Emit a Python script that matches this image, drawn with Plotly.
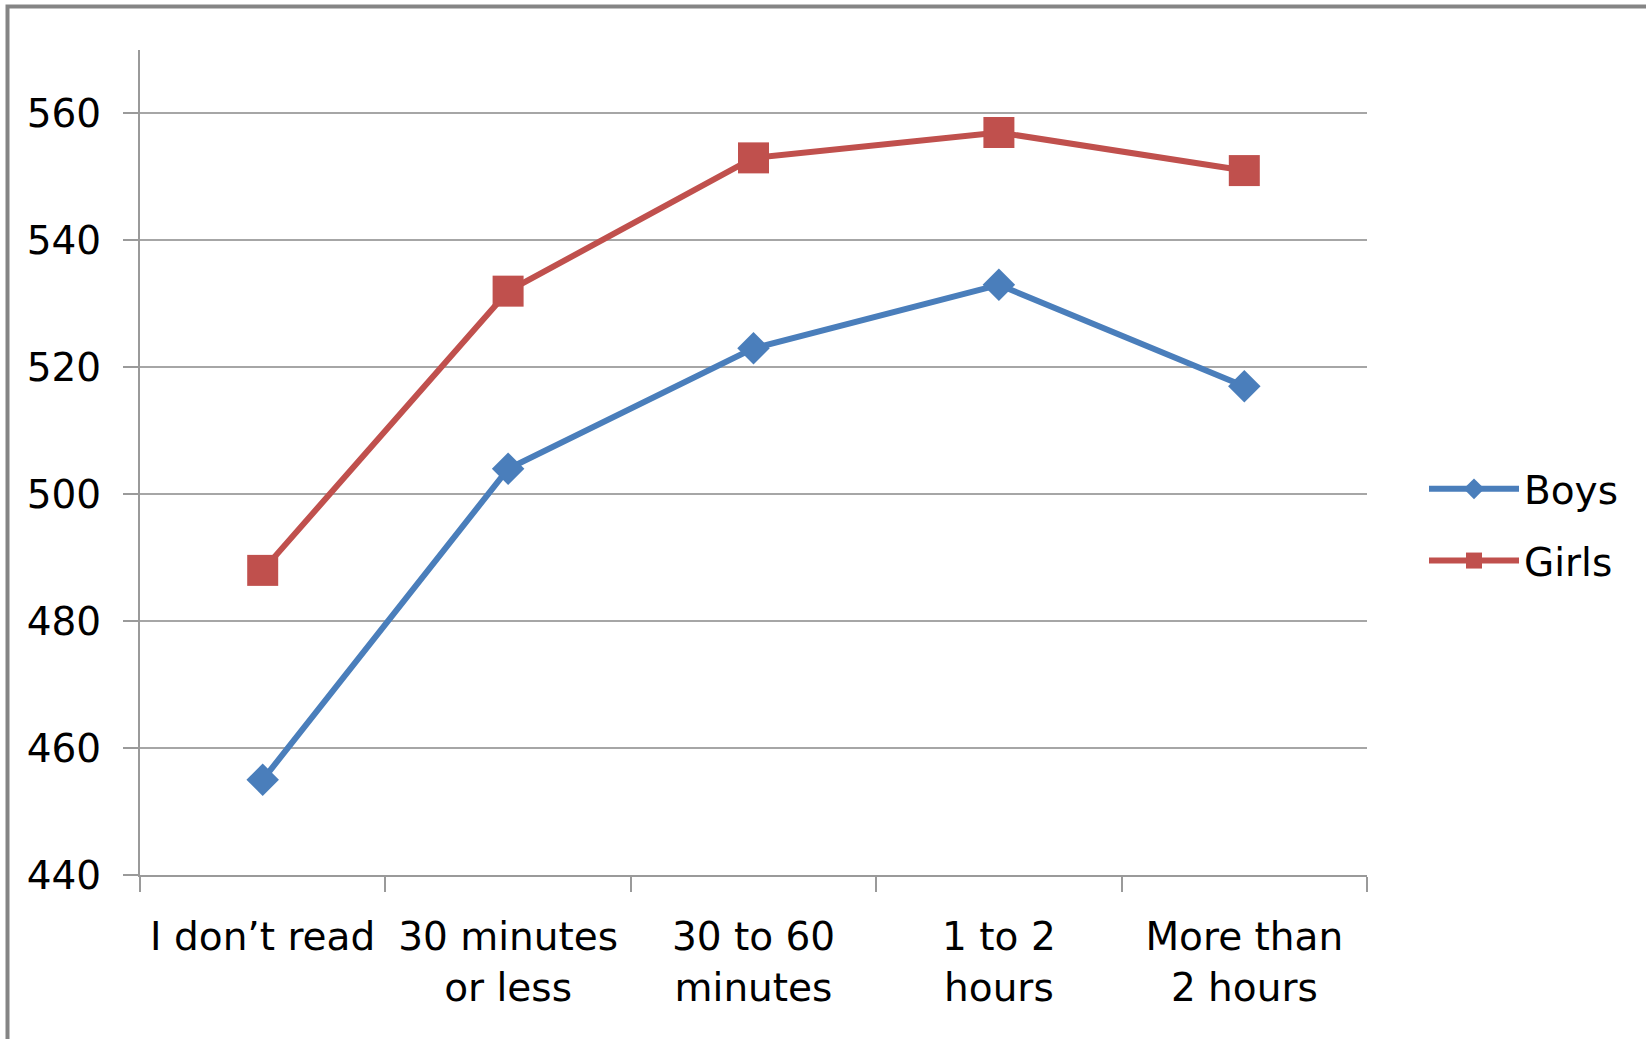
import plotly.graph_objects as go

categories = ["I don’t read", "30 minutes<br>or less", "30 to 60<br>minutes", "1 to 2<br>hours", "More than<br>2 hours"]
boys = [455, 504, 523, 533, 517]
girls = [488, 532, 553, 557, 551]
y_ticks = [440, 460, 480, 500, 520, 540, 560]

W, H = 1646, 1039
# plot area in screen pixels
SX0, SX1, SY0, SY1 = 140, 1367, 50, 875
L, T = SX0, SY0
R, B = W - SX1, H - SY1
pw, ph = SX1 - SX0, SY1 - SY0

FONT = "DejaVu Sans"
FS = 39
GRID = "#a6a6a6"
AXIS = "#9a9a9a"

fig = go.Figure()
fig.add_trace(go.Scatter(
    x=categories, y=boys, name="Boys", mode="lines+markers",
    line=dict(color="#4A7EBB", width=6),
    marker=dict(symbol="diamond", size=25, color="#4A7EBB"),
    legendgroup="a",
))
fig.add_trace(go.Scatter(
    x=categories, y=girls, name="Girls", mode="lines+markers",
    line=dict(color="#C0504D", width=6),
    marker=dict(symbol="square", size=31, color="#C0504D"),
    legendgroup="b",
))

def sx(px):
    return (px - SX0) / pw

def sy(py):
    return (SY1 - py) / ph

fig.update_layout(
    width=W, height=H,
    margin=dict(l=L, r=R, t=T, b=B, autoexpand=False),
    paper_bgcolor="white", plot_bgcolor="white",
    font=dict(family=FONT, size=FS, color="#000000"),
    showlegend=True,
    legend=dict(
        x=sx(1424), y=sy(525), yanchor="middle", xanchor="left",
        font=dict(family=FONT, size=FS, color="#000000"),
        itemwidth=90, tracegroupgap=18, bgcolor="rgba(0,0,0,0)",
    ),
    xaxis=dict(
        type="category", range=[-0.5, 4.5],
        showline=True, linecolor=AXIS, linewidth=2,
        ticks="outside", ticklen=15, tickcolor=AXIS, tickwidth=2,
        tickson="boundaries", showgrid=False,
        tickfont=dict(family=FONT, size=FS), ticklabelstandoff=26,
    ),
    yaxis=dict(
        range=[440, 570], tickvals=y_ticks,
        showline=True, linecolor=AXIS, linewidth=2,
        ticks="outside", ticklen=15, tickcolor=AXIS, tickwidth=2,
        showgrid=True, gridcolor=GRID, gridwidth=2,
        zeroline=False,
        tickfont=dict(family=FONT, size=FS), ticklabelstandoff=14,
    ),
    shapes=[dict(
        type="rect", xref="paper", yref="paper",
        x0=sx(7.5), x1=sx(1700),
        y0=sy(1100), y1=sy(6.5),
        line=dict(color="#858585", width=4), fillcolor="rgba(0,0,0,0)", layer="below",
    )],
)

fig.write_html("out.html", config={"displayModeBar": False},
               post_script="document.body.style.margin='0px';")
